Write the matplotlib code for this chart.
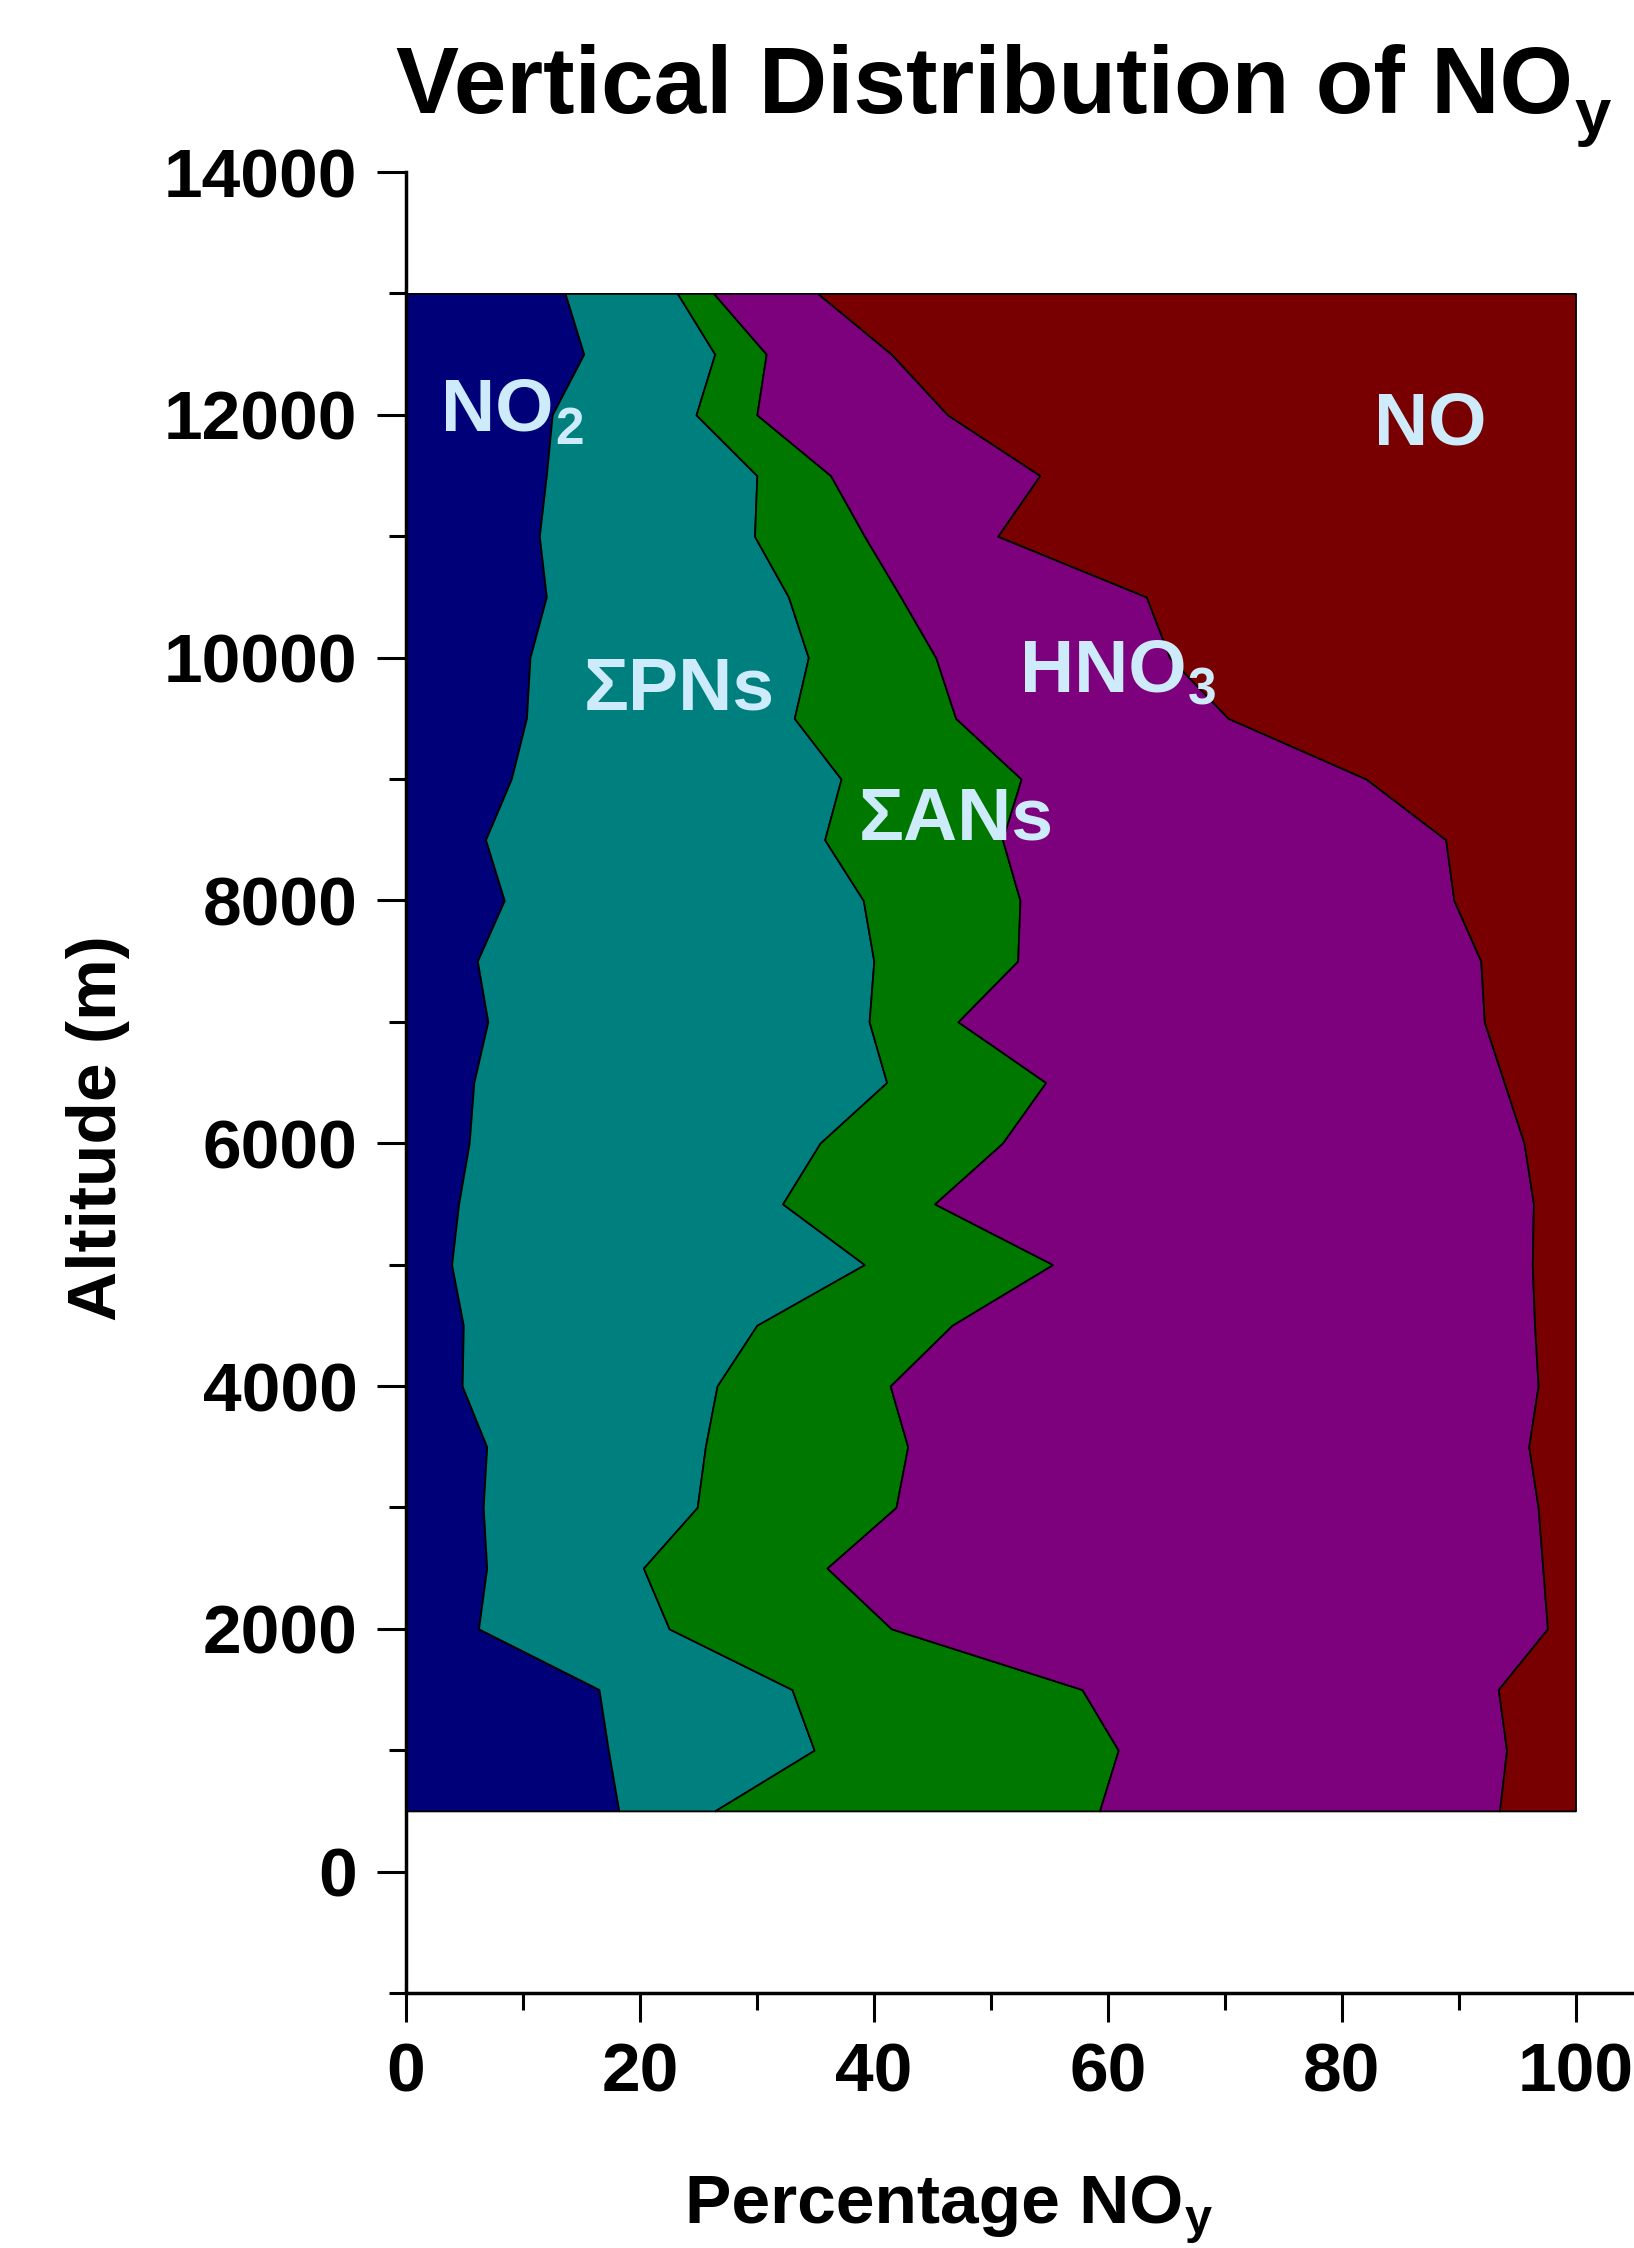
import numpy as np
import matplotlib
matplotlib.use("Agg")
import matplotlib.pyplot as plt
from matplotlib.ticker import MultipleLocator

plt.rcParams['font.family'] = ['Liberation Sans', 'DejaVu Sans']
plt.rcParams['font.weight'] = 'bold'

# Altitude levels (m)
altitude = [500, 1000, 1500, 2000, 2500, 3000, 3500, 4000, 4500, 5000,
            5500, 6000, 6500, 7000, 7500, 8000, 8500, 9000, 9500, 10000,
            10500, 11000, 11500, 12000, 12500, 13000]

# Percentage of NOy for each species at each altitude
no2 = [18.2, 17.3, 16.5, 6.2, 6.9, 6.6, 6.9, 4.8, 4.9, 3.9,
       4.5, 5.4, 5.8, 7.0, 6.1, 8.4, 6.8, 9.0, 10.3, 10.6,
       12.0, 11.4, 12.0, 12.5, 15.2, 13.6]
pns = [8.2, 17.6, 16.5, 16.3, 13.4, 18.3, 18.7, 21.8, 25.1, 35.3,
       27.7, 30.0, 35.3, 32.6, 33.9, 30.7, 29.0, 28.2, 22.9, 23.8,
       20.7, 18.4, 18.0, 12.3, 11.2, 9.6]
ans = [32.9, 26.0, 24.8, 19.0, 15.7, 17.0, 17.3, 14.8, 16.7, 16.1,
       13.0, 15.6, 13.6, 7.6, 12.3, 13.4, 15.2, 15.4, 13.8, 10.9,
       9.6, 9.4, 6.3, 5.2, 4.4, 3.1]
hno3 = [34.2, 33.2, 35.6, 56.1, 61.2, 54.9, 53.1, 55.4, 49.8, 41.0,
        51.2, 44.6, 39.2, 45.0, 39.6, 37.1, 37.9, 29.5, 23.3, 20.0,
        21.0, 11.4, 17.9, 16.3, 10.7, 8.9]
no = [6.5, 5.9, 6.6, 2.4, 2.8, 3.2, 4.0, 3.2, 3.5, 3.7,
      3.6, 4.4, 6.1, 7.8, 8.1, 10.4, 11.1, 17.9, 29.7, 34.7,
      36.7, 49.4, 45.8, 53.7, 58.5, 64.8]

species = ['NO2', 'PNs', 'ANs', 'HNO3', 'NO']
colors = ['#000078', '#007F7F', '#007800', '#7D007D', '#780000']
label_base = ['NO', 'ΣPNs', 'ΣANs', 'HNO', 'NO']
label_sub = ['2', '', '', '3', '']
label_pos = [(3.0, 11873), (15.2, 9574), (38.7, 8500), (52.5, 9722), (82.8, 11756)]

W, H = 1634, 2248
fig = plt.figure(figsize=(W / 100, H / 100), dpi=100)
ax = fig.add_axes([406 / W, (H - 1993) / H, 1228 / W, 1821 / H])

alt = np.array(altitude, dtype=float)
stack = np.array([no2, pns, ans, hno3, no], dtype=float)
cum = np.cumsum(stack, axis=0)
left = np.zeros_like(alt)
for i in range(len(species)):
    right = cum[i]
    ax.fill_betweenx(alt, left, right, facecolor=colors[i], edgecolor='black',
                     linewidth=1.3, zorder=2)
    left = right


def add_sub(base_artist, sub, fs, color='black', dy=0.0):
    if not sub:
        return
    ax.annotate(sub, xy=(1, 0), xycoords=base_artist, xytext=(1, dy),
                textcoords='offset points', fontsize=fs, fontweight='bold',
                color=color, ha='left', va='baseline', zorder=5,
                annotation_clip=False)


txt_color = '#CDEBFA'
for base, sub, (x, y) in zip(label_base, label_sub, label_pos):
    t = ax.text(x, y, base, color=txt_color, fontsize=54, fontweight='bold',
                ha='left', va='baseline', zorder=5)
    add_sub(t, sub, 37, color=txt_color, dy=1)

ax.set_xlim(0, 105)
ax.set_ylim(-1000, 14000)
ax.xaxis.set_major_locator(MultipleLocator(20))
ax.xaxis.set_minor_locator(MultipleLocator(10))
ax.yaxis.set_major_locator(MultipleLocator(2000))
ax.yaxis.set_minor_locator(MultipleLocator(1000))

for s in ['top', 'right']:
    ax.spines[s].set_visible(False)
for s in ['left', 'bottom']:
    ax.spines[s].set_linewidth(2.5)
    ax.spines[s].set_zorder(6)

ax.tick_params(which='major', direction='out', length=21, width=2.2, pad=14,
               labelsize=50)
ax.tick_params(which='minor', direction='out', length=12, width=2.2)
for t in ax.get_xticklabels() + ax.get_yticklabels():
    t.set_fontweight('bold')

ax.set_xlabel('Percentage NO', fontsize=50, fontweight='bold', va='baseline')
ax.xaxis.set_label_coords(0.430, -0.1263)
add_sub(ax.xaxis.label, 'y', 35, dy=3)

ax.set_ylabel('Altitude (m)', fontsize=50, fontweight='bold')
ax.yaxis.set_label_coords(-0.225, 0.475)

title = fig.text(396 / W, 1 - 113 / H, 'Vertical Distribution of NO', fontsize=68,
                 fontweight='bold', ha='left', va='baseline')
add_sub(title, 'y', 47, dy=-1)

fig.savefig('out.png', dpi=100)
